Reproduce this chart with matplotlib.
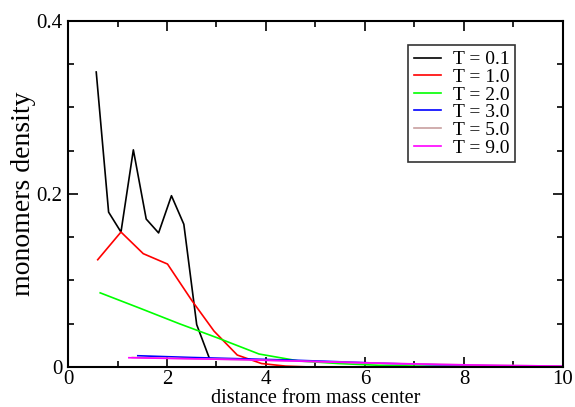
import matplotlib.pyplot as plt
from matplotlib.ticker import MultipleLocator, FuncFormatter

plt.rcParams["font.family"] = "Liberation Serif"

# T = 0.1
x_01 = [0.57, 0.82, 1.07, 1.32, 1.58, 1.83, 2.09, 2.34, 2.6, 2.85]
y_01 = [0.341, 0.179, 0.156, 0.251, 0.171, 0.155, 0.198, 0.165, 0.049, 0.011]
# T = 1.0
x_10 = [0.6, 1.07, 1.52, 2.01, 2.5, 2.95, 3.42, 3.91, 4.4, 4.9, 5.4, 6.0, 7.0, 8.0, 9.0, 10.0]
y_10 = [0.124, 0.156, 0.131, 0.119, 0.077, 0.0415, 0.0138, 0.004, 0.001, 0.0, 0.0, 0.0, 0.0, 0.0, 0.0, 0.0]
# T = 2.0
x_20 = [0.65, 1.45, 2.25, 3.05, 3.86, 4.66, 5.46, 6.27, 7.07, 7.87, 8.68, 9.48, 10.0]
y_20 = [0.0857, 0.068, 0.050, 0.033, 0.015, 0.007, 0.004, 0.002, 0.001, 0.0005, 0.0002, 0.0001, 0.0]
# T = 3.0
x_30 = [1.41, 2.5, 3.5, 4.5, 5.5, 6.5, 7.5, 8.5, 10.0]
y_30 = [0.013, 0.011, 0.0095, 0.008, 0.006, 0.004, 0.0025, 0.0015, 0.0005]
# T = 5.0
x_50 = [1.3, 2.5, 3.5, 4.5, 5.5, 6.5, 7.5, 8.5, 10.0]
y_50 = [0.011, 0.0095, 0.0085, 0.007, 0.0055, 0.004, 0.003, 0.002, 0.001]
# T = 9.0
x_90 = [1.23, 2.5, 3.5, 4.5, 5.5, 6.5, 7.5, 8.5, 10.0]
y_90 = [0.0107, 0.0095, 0.0085, 0.007, 0.0055, 0.0042, 0.003, 0.002, 0.001]

series = [
    (x_01, y_01, "black", "T = 0.1"),
    (x_10, y_10, "#ff0000", "T = 1.0"),
    (x_20, y_20, "#00ff00", "T = 2.0"),
    (x_30, y_30, "#0000ff", "T = 3.0"),
    (x_50, y_50, "#c8a0a0", "T = 5.0"),
    (x_90, y_90, "#ff00ff", "T = 9.0"),
]

fig = plt.figure(figsize=(5.75, 4.07), dpi=100)
ax = fig.add_axes([0.1183, 0.0983, 0.8607, 0.8502])

for x, y, c, lab in series:
    ax.plot(x, y, color=c, lw=1.2, label=lab)

ax.set_xlim(0, 10)
ax.set_ylim(0, 0.4)
ax.xaxis.set_major_locator(MultipleLocator(2))
ax.xaxis.set_minor_locator(MultipleLocator(1))
ax.yaxis.set_major_locator(MultipleLocator(0.2))
ax.yaxis.set_minor_locator(MultipleLocator(0.05))
ax.yaxis.set_major_formatter(FuncFormatter(lambda v, p: "0" if v == 0 else f"{v:.1f}"))
ax.tick_params(which="both", direction="in", top=True, right=True, width=1.2, labelsize=15)
ax.tick_params(axis="x", pad=2.5)
ax.tick_params(axis="y", pad=4)
ax.tick_params(which="major", length=7)
ax.tick_params(which="minor", length=4)
for s in ax.spines.values():
    s.set_linewidth(1.5)

ax.set_xlabel("distance from mass center", fontsize=14.5, labelpad=0)
ax.set_ylabel("monomers density", fontsize=20, labelpad=0)

leg = ax.legend(loc="upper right", bbox_to_anchor=(0.8957, 0.8894), bbox_transform=fig.transFigure,
                fontsize=14, frameon=True, fancybox=False, edgecolor="black",
                handlelength=1.4, handletextpad=0.6, labelspacing=0.0, borderpad=0.3,
                borderaxespad=0)
leg.get_frame().set_linewidth(1.2)

fig.savefig("out.png", dpi=100)
